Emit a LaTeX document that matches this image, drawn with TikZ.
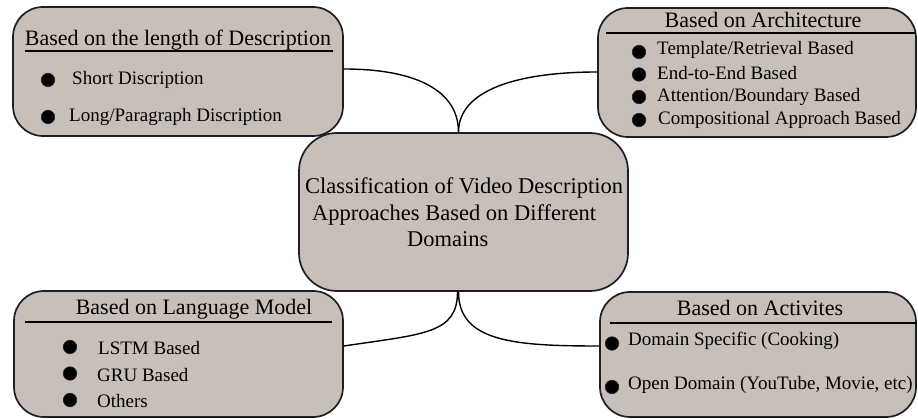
\documentclass[tikz,border=0pt]{standalone}
\usepackage{fontspec}
\setmainfont{Liberation Serif}
\definecolor{boxfill}{RGB}{200,191,185}
\definecolor{boxline}{RGB}{30,30,36}
\begin{document}
\begin{tikzpicture}[x=1pt,y=-1pt,
  box/.style={draw=boxline, line width=1.7pt, fill=boxfill, rounded corners=30pt, inner sep=0pt, rectangle},
  ttl/.style={anchor=base, inner sep=0pt, font=\fontsize{22}{26}\selectfont},
  itm/.style={anchor=base west, inner sep=0pt, font=\fontsize{19}{22}\selectfont},
  ctr/.style={anchor=base west, inner sep=0pt, font=\fontsize{22.5}{26}\selectfont},
  dot/.style={circle, fill=black, draw=boxline, line width=0.6pt, minimum size=13.5pt, inner sep=0pt},
  rulerline/.style={line width=1.6pt, draw=black},
  link/.style={line width=1.4pt, draw=black}]
\useasboundingbox (0,0) rectangle (918,419);

% boxes
\node[box, minimum width=330pt, minimum height=129pt] (tl) at (178,71.5) {};
\node[box, minimum width=318pt, minimum height=129pt] (tr) at (757,72.5) {};
\node[box, minimum width=329pt, minimum height=126pt] (bl) at (178.5,354) {};
\node[box, minimum width=316pt, minimum height=125pt] (br) at (758,354.5) {};
\node[box, rounded corners=38pt, minimum width=329pt, minimum height=158pt] (cen) at (463.5,212) {};

% connectors
\draw[link] ([yshift=2.5pt]tl.east) .. controls +(75,0) and +(0,-40) .. ([xshift=-5pt]cen.north);
\draw[link] ([yshift=0.5pt]tr.west) .. controls +(-80,0) and +(0,-42) .. ([xshift=-5pt]cen.north);
\draw[link] ([yshift=8pt]bl.east) .. controls +(80,-12) and +(0,42) .. ([xshift=-6pt]cen.south);
\draw[link] ([xshift=-5pt]cen.south) .. controls +(0,50) and +(-85,0) .. ([yshift=8.5pt]br.west);

% centre text
\node[ctr] (c1) at (305,194) {Classification of Video Description};
\node[ctr] (c2) at (312,220.5) {Approaches Based on Different};
\node[ctr] (c3) at (407,247) {Domains};

% top-left box
\node[ttl] (tlt) at (178,46) {Based on the length of Description};
\draw[rulerline] (25,51) -- (333,51);
\node[dot] (tlb1) at (48,80) {};
\node[itm] (tli1) at (72,85) {Short Discription};
\node[dot] (tlb2) at (48,117) {};
\node[itm] (tli2) at (69,122) {Long/Paragraph Discription};

% top-right box
\node[ttl] (trt) at (763,28) {Based on Architecture};
\draw[rulerline] (606,33) -- (915,33);
\node[dot] (trb1) at (639,52) {};
\node[itm] (tri1) at (657,55) {Template/Retrieval Based};
\node[dot] (trb2) at (639,74.5) {};
\node[itm] (tri2) at (657,80) {End-to-End Based};
\node[dot] (trb3) at (639,97) {};
\node[itm] (tri3) at (657,102) {Attention/Boundary Based};
\node[dot] (trb4) at (639,120) {};
\node[itm] (tri4) at (658,125) {Compositional Approach Based};

% bottom-left box
\node[ttl] (blt) at (194,315) {Based on Language Model};
\draw[rulerline] (25,322) -- (332,322);
\node[dot] (blb1) at (70,347) {};
\node[itm] (bli1) at (98,354.5) {LSTM Based};
\node[dot] (blb2) at (70,373.5) {};
\node[itm] (bli2) at (97,381.5) {GRU Based};
\node[dot] (blb3) at (70,400) {};
\node[itm] (bli3) at (97,407) {Others};

% bottom-right box
\node[ttl] (brt) at (760,316) {Based on Activites};
\draw[rulerline] (610,323) -- (917,323);
\node[dot] (brb1) at (612,343.5) {};
\node[itm] (bri1) at (628,345) {Domain Specific (Cooking)};
\node[dot] (brb2) at (612,387) {};
\node[itm] (bri2) at (628,389.5) {Open Domain (YouTube, Movie, etc)};
\end{tikzpicture}
\end{document}
